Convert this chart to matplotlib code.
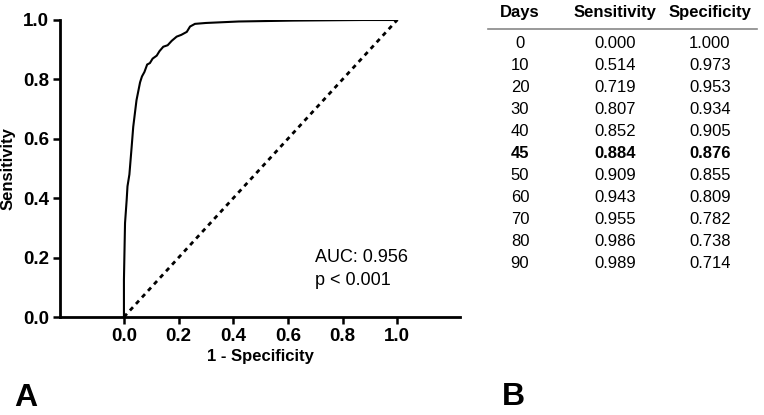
import matplotlib
matplotlib.use("Agg")
import matplotlib.pyplot as plt

plt.rcParams['font.family'] = ['Liberation Sans', 'DejaVu Sans']

# ROC curve data
fpr = [0.0, 0.0, 0.004, 0.01, 0.013, 0.02, 0.028, 0.034, 0.046, 0.059, 0.066, 0.075,
       0.085, 0.095, 0.105, 0.12, 0.13, 0.144, 0.16, 0.175, 0.193, 0.21, 0.23, 0.242,
       0.26, 0.30, 0.42, 0.62, 0.875, 1.0]
tpr = [0.0, 0.125, 0.316, 0.394, 0.44, 0.48, 0.57, 0.64, 0.73, 0.79, 0.81, 0.825,
       0.85, 0.855, 0.87, 0.88, 0.895, 0.91, 0.915, 0.93, 0.944, 0.95, 0.96, 0.978,
       0.987, 0.99, 0.995, 0.998, 1.0, 1.0]
ref_line = [0.0, 1.0]
ticks = [0.0, 0.2, 0.4, 0.6, 0.8, 1.0]
tick_labels = ["0.0", "0.2", "0.4", "0.6", "0.8", "1.0"]
auc_line = "AUC: 0.956"
p_line = "p < 0.001"

# Table data
days = ["0", "10", "20", "30", "40", "45", "50", "60", "70", "80", "90"]
sensitivity = ["0.000", "0.514", "0.719", "0.807", "0.852", "0.884", "0.909",
               "0.943", "0.955", "0.986", "0.989"]
specificity = ["1.000", "0.973", "0.953", "0.934", "0.905", "0.876", "0.855",
               "0.809", "0.782", "0.738", "0.714"]
headers = ["Days", "Sensitivity", "Specificity"]
bold_row = "45"

W, H = 764, 415
fig = plt.figure(figsize=(W / 100, H / 100), dpi=100)


def fx(px):
    return px / W


def fy(py):
    return 1 - py / H


ax = fig.add_axes([fx(60), fy(317), fx(400), 297 / H])
ax.plot(fpr, tpr, color='black', lw=1.5, solid_joinstyle='miter')
ax.plot(ref_line, ref_line, color='black', lw=2, dashes=(1.6, 1.6))
ax.set_xlim(-0.234, 1.23)
ax.set_ylim(0, 1.0)
ax.set_xticks(ticks)
ax.set_xticklabels(tick_labels)
ax.set_yticks(ticks)
ax.set_yticklabels(tick_labels)
for s in ['top', 'right']:
    ax.spines[s].set_visible(False)
for s in ['left', 'bottom']:
    ax.spines[s].set_linewidth(2)
ax.tick_params(direction='out', length=5, width=1.8, labelsize=13.5, pad=3)
for lab in ax.get_xticklabels() + ax.get_yticklabels():
    lab.set_fontweight('bold')
ax.set_xlabel("1 - Specificity", fontsize=12, fontweight='bold', labelpad=3)
ax.set_ylabel("Sensitivity", fontsize=12, fontweight='bold', labelpad=5)
ax.text(0.70, 0.185, auc_line, fontsize=13, ha='left', va='baseline')
ax.text(0.70, 0.108, p_line, fontsize=13, ha='left', va='baseline')

# Panel letters
fig.text(fx(26), fy(398), "A", fontsize=23, fontweight='bold', ha='center', va='center')
fig.text(fx(513), fy(397), "B", fontsize=23, fontweight='bold', ha='center', va='center')

# Table
col_x = [520, 615, 710]
for cx, h in zip(col_x, headers):
    fig.text(fx(cx), fy(12), h, fontsize=12, fontweight='bold', ha='center', va='center')
fig.add_artist(plt.Line2D([fx(488), fx(757)], [fy(29), fy(29)], color='#888888', lw=1.2))
for i, (d, se, sp) in enumerate(zip(days, sensitivity, specificity)):
    yy = fy(43 + 22 * i)
    w = 'bold' if d == bold_row else 'normal'
    for cx, t in zip(col_x, (d, se, sp)):
        fig.text(fx(cx), yy, t, fontsize=12, fontweight=w, ha='center', va='center')

fig.savefig("out.png", dpi=100)
